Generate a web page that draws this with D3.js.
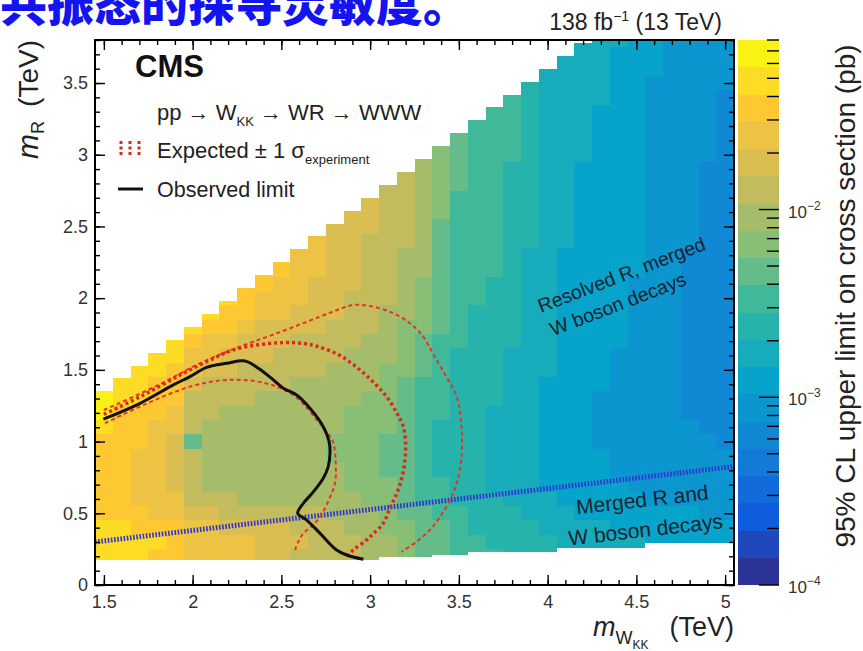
<!DOCTYPE html>
<html>
<head>
<meta charset="utf-8">
<title>W_KK → WR → WWW limits</title>
<script src="https://cdn.jsdelivr.net/npm/d3@7/dist/d3.min.js"></script>
<style>
  html, body { margin: 0; padding: 0; background: #fff; }
  svg { display: block; }
  text { font-family: "Liberation Sans", Arial, Helvetica, sans-serif; }
</style>
</head>
<body>
<svg id="chart" width="863" height="651"></svg>
<script>
// ---- data -----------------------------------------------------------------
// m(W_KK) bin centres (TeV), bins 0.1 TeV wide
const massWKK = [1.5,1.6,1.7,1.8,1.9,2.0,2.1,2.2,2.3,2.4,2.5,2.6,2.7,2.8,2.9,3.0,3.1,3.2,
                 3.3,3.4,3.5,3.6,3.7,3.8,3.9,4.0,4.1,4.2,4.3,4.4,4.5,4.6,4.7,4.8,4.9,5.0];
// m(R) bin centres (TeV), bins 0.1 TeV tall
const massR = [0.2,0.3,0.4,0.5,0.6,0.7,0.8,0.9,1.0,1.1,1.2,1.3,1.4,1.5,1.6,1.7,1.8,1.9,2.0,
               2.1,2.2,2.3,2.4,2.5,2.6,2.7,2.8,2.9,3.0,3.1,3.2,3.3,3.4,3.5,3.6,3.7,3.8];
// scanned m(R) range of every m(W_KK) column (TeV)
const columnTopR = [1.35,1.44,1.53,1.62,1.71,1.80,1.89,1.98,2.07,2.16,2.25,2.34,2.43,2.52,2.61,2.70,2.79,2.88,
                    2.97,3.06,3.15,3.24,3.33,3.42,3.51,3.60,3.69,3.78,3.85,3.85,3.85,3.85,3.85,3.85,3.85,3.85];
const columnBottomR = [0.175,0.175,0.175,0.175,0.175,0.175,0.175,0.175,0.175,0.175,0.175,0.175,0.175,0.175,0.175,0.175,
                       0.197,0.197,0.197,0.21,0.21,0.232,0.232,0.232,0.232,0.232,
                       0.256,0.256,0.256,0.256,0.256,0.29,0.29,0.29,0.29,0.29];
// observed 95% CL upper limit on the cross section (fb), one list per m(W_KK) column,
// starting from the lowest m(R) bin
const observedLimitFb = [
  /*1.5*/ [50,55,48,38,36,35,36,37,40,48,60,70],
  /*1.6*/ [46,50,44,34,31,30,30,31,33,36,40,47,52],
  /*1.7*/ [44,46,40,32,29,27,27,28,30,32,36,42,47,50],
  /*1.8*/ [40,42,36,29,26,24,23,24,25,27,30,34,40,46,50],
  /*1.9*/ [36,38,32,26,23,21,20,20,21,23,26,30,35,40,46,50],
  /*2.0*/ [27,28,24,18,14,12.5,12,12,4.8,12,13,15,18,22,28,36,44],
  /*2.1*/ [25,26,22,16,12,9.8,9.2,9.2,9.6,10,11,13,15,18,22,28,36,44],
  /*2.2*/ [24,25,21,15,11,8.6,8.2,8.2,8.4,9.2,10,12,14,16,19,24,30,38,44],
  /*2.3*/ [22,23,19,14,10.5,8.4,8,8,8.2,9,9.6,11,12.5,14.5,17,20,25,31,37,40],
  /*2.4*/ [20,21,17,13,10,8.2,7.8,7.8,8,8.8,9.4,10.5,12,13.5,15.5,18,21,25,29,33,36],
  /*2.5*/ [18,19,16,12.5,9.8,8.2,7.8,7.8,8,8.8,9.2,10,11.5,13,14.5,16.5,19,22,25,28,31],
  /*2.6*/ [15,16,14,12,9.6,8.8,8.4,8.4,8.6,8.8,9,9.6,10.5,12,13.5,15,17,19,22,24,26,27],
  /*2.7*/ [13,13.5,12.5,11,9.2,8.6,8.2,8.2,8.4,8.6,8.8,9.2,10,11,12.5,14,15.5,17,19,21,22,23,24],
  /*2.8*/ [12,12,11,10,8.8,8.2,7.8,7.6,7.6,7.8,8.2,8.6,9.2,10,11,12.5,14,15.5,17,18,19,20,20,21],
  /*2.9*/ [11,11,10,9.4,8.2,7.6,7.2,7,7,7.2,7.6,8,8.6,9.2,10,11,12.5,13.5,15,16,16.5,17,17.5,18,18],
  /*3.0*/ [9.5,9.5,8.8,8.2,7.2,6.8,6.4,6.2,6.2,6.4,6.8,7.2,7.8,8.4,9.2,10,11,12,13,14,14.5,15,15,15.5,15.5,16],
  /*3.1*/ [8,8,7.4,6.8,6,5.6,5.4,5.4,5.4,5.6,5.8,6.2,6.8,7.4,8,8.8,9.6,10.5,11.5,12,12.5,13,13,13.5,13.5,14,14],
  /*3.2*/ [6.6,6.4,6,5.4,4.8,4.4,4.2,4.2,4.2,4.3,4.5,4.8,5.2,5.8,6.4,7,7.6,8.4,9,9.6,10,10.5,11,11,11.5,11.5,12,12],
  /*3.3*/ [5.4,5.2,4.8,4.2,3.7,3.4,3.3,3.2,3.2,3.3,3.4,3.6,3.9,4.3,4.8,5.3,5.8,6.4,7,7.5,8,8.4,8.8,9,9.2,9.4,9.6,9.8,10],
  /*3.4*/ [4.6,4.4,4,3.5,3.1,2.9,2.8,2.8,2.8,2.8,2.9,3,3.2,3.4,3.6,3.8,4,4.2,4.4,4.6,4.8,5,5.2,5.4,5.6,5.8,6,6.2,6.4,6.6],
  /*3.5*/ [3.8,3.6,3.3,2.9,2.6,2.4,2.3,2.3,2.3,2.3,2.4,2.5,2.6,2.7,2.8,2.9,3,3.1,3.2,3.3,3.4,3.5,3.6,3.7,3.8,3.9,4,4.1,4.2,4.3],
  /*3.6*/ [3.3,3.1,2.8,2.5,2.3,2.2,2.1,2.1,2.1,2.1,2.2,2.2,2.3,2.4,2.5,2.6,2.7,2.8,2.9,3,3.1,3.2,3.3,3.3,3.4,3.4,3.5,3.5,3.6,3.6,3.7],
  /*3.7*/ [2.9,2.8,2.5,2.3,2.1,2,1.95,1.95,1.95,1.95,2,2.05,2.1,2.2,2.3,2.4,2.5,2.6,2.7,2.8,2.85,2.9,2.95,3,3.05,3.1,3.15,3.2,3.25,3.3,3.35,3.4],
  /*3.8*/ [2.6,2.5,2.3,2.1,1.9,1.8,1.75,1.72,1.72,1.72,1.75,1.8,1.85,1.9,2,2.1,2.2,2.3,2.4,2.45,2.5,2.55,2.6,2.65,2.7,2.75,2.8,2.8,2.85,2.85,2.9,2.9,2.95],
  /*3.9*/ [2.4,2.3,2.1,1.9,1.7,1.6,1.55,1.52,1.5,1.5,1.52,1.55,1.6,1.65,1.7,1.75,1.8,1.85,1.9,1.95,2,2,2.05,2.05,2.1,2.1,2.15,2.15,2.2,2.2,2.25,2.25,2.3,2.3],
  /*4.0*/ [2.2,2.1,1.9,1.7,1.5,1.42,1.38,1.35,1.33,1.33,1.35,1.38,1.42,1.45,1.48,1.5,1.52,1.54,1.56,1.58,1.6,1.62,1.64,1.66,1.68,1.7,1.72,1.74,1.76,1.78,1.8,1.82,1.84,1.86,1.88],
  /*4.1*/ [2,1.9,1.75,1.55,1.38,1.3,1.25,1.22,1.2,1.2,1.22,1.25,1.28,1.3,1.32,1.34,1.36,1.38,1.4,1.42,1.43,1.44,1.45,1.46,1.47,1.48,1.49,1.5,1.52,1.54,1.56,1.58,1.6,1.62,1.64,1.66],
  /*4.2*/ [1.85,1.75,1.6,1.42,1.28,1.2,1.15,1.12,1.1,1.1,1.1,1.12,1.14,1.16,1.18,1.2,1.22,1.24,1.26,1.28,1.3,1.32,1.34,1.36,1.38,1.4,1.42,1.44,1.46,1.48,1.5,1.52,1.54,1.56,1.58,1.6,1.62],
  /*4.3*/ [1.75,1.65,1.52,1.34,1.2,1.12,1.07,1.04,1.02,1.02,1.02,1.03,1.05,1.07,1.09,1.11,1.13,1.15,1.17,1.19,1.21,1.23,1.25,1.27,1.29,1.31,1.33,1.35,1.37,1.39,1.41,1.43,1.45,1.47,1.5,1.52,1.55],
  /*4.4*/ [1.65,1.56,1.44,1.26,1.13,1.05,1,0.97,0.95,0.95,0.95,0.96,0.98,1,1.02,1.04,1.06,1.08,1.1,1.12,1.14,1.16,1.18,1.2,1.22,1.24,1.26,1.28,1.3,1.32,1.34,1.36,1.38,1.4,1.42,1.44,1.45],
  /*4.5*/ [1.55,1.48,1.36,1.2,1.07,0.99,0.94,0.91,0.89,0.88,0.88,0.88,0.89,0.9,0.92,0.94,0.96,0.98,1,1.02,1.04,1.06,1.08,1.1,1.12,1.13,1.14,1.15,1.16,1.17,1.18,1.19,1.2,1.21,1.22,1.23,1.24],
  /*4.6*/ [1.48,1.42,1.3,1.15,1.02,0.94,0.89,0.86,0.84,0.83,0.82,0.82,0.82,0.83,0.84,0.85,0.86,0.87,0.88,0.89,0.9,0.91,0.92,0.93,0.94,0.95,0.96,0.97,0.98,0.99,1,1.01,1.02,1.03,1.04,1.05,1.06],
  /*4.7*/ [1.42,1.36,1.25,1.1,0.98,0.9,0.85,0.82,0.8,0.79,0.78,0.77,0.77,0.77,0.77,0.78,0.78,0.79,0.8,0.8,0.81,0.82,0.83,0.84,0.85,0.86,0.87,0.88,0.88,0.89,0.9,0.9,0.91,0.92,0.92,0.93,0.94],
  /*4.8*/ [1.36,1.3,1.2,1.05,0.94,0.87,0.83,0.8,0.78,0.76,0.74,0.73,0.72,0.71,0.71,0.71,0.71,0.71,0.72,0.72,0.73,0.74,0.75,0.76,0.77,0.78,0.79,0.8,0.81,0.82,0.82,0.83,0.84,0.85,0.85,0.86,0.87],
  /*4.9*/ [1.3,1.25,1.15,1.01,0.91,0.85,0.81,0.78,0.75,0.72,0.7,0.68,0.67,0.66,0.66,0.65,0.65,0.65,0.66,0.66,0.67,0.68,0.69,0.7,0.71,0.72,0.73,0.74,0.75,0.76,0.77,0.78,0.79,0.8,0.8,0.81,0.82],
  /*5.0*/ [1.25,1.2,1.1,0.97,0.88,0.83,0.8,0.77,0.73,0.7,0.67,0.64,0.62,0.61,0.6,0.6,0.6,0.6,0.6,0.61,0.62,0.63,0.64,0.65,0.66,0.67,0.68,0.69,0.7,0.71,0.72,0.73,0.74,0.75,0.76,0.77,0.78]
];
// exclusion contours, points are [m(W_KK), m(R)] in TeV
const observedContour = [[1.497,1.156],[1.704,1.267],[1.891,1.395],[1.985,1.453],[2.079,1.518],[2.192,1.546],
  [2.295,1.562],[2.37,1.511],[2.455,1.43],[2.511,1.372],[2.586,1.325],[2.661,1.232],[2.736,1.104],[2.769,1.0],
  [2.774,0.92],[2.764,0.825],[2.736,0.745],[2.671,0.636],[2.624,0.57],[2.592,0.5],[2.643,0.453],[2.718,0.36],
  [2.811,0.244],[2.868,0.209],[2.962,0.179]];
const expectedContour = [[1.5,1.19],[1.7,1.31],[1.929,1.464],[2.1,1.57],[2.229,1.639],[2.37,1.675],[2.511,1.69],
  [2.62,1.685],[2.699,1.665],[2.83,1.6],[2.943,1.499],[3.03,1.4],[3.093,1.313],[3.15,1.2],[3.187,1.104],[3.2,0.98],
  [3.196,0.872],[3.18,0.75],[3.15,0.639],[3.11,0.53],[3.074,0.43],[3.02,0.36],[2.98,0.314],[2.905,0.244],[2.868,0.197]];
const expectedOuterBand = [[1.5,1.22],[1.8,1.39],[2.04,1.545],[2.267,1.662],[2.474,1.755],[2.718,1.871],[2.83,1.925],
  [2.905,1.953],[3.0,1.945],[3.131,1.895],[3.23,1.82],[3.3,1.73],[3.36,1.6],[3.43,1.45],[3.488,1.313],[3.516,1.081],
  [3.506,0.802],[3.46,0.616],[3.394,0.476],[3.337,0.384],[3.26,0.3],[3.178,0.232]];
const expectedInnerBand = [[1.506,1.128],[1.75,1.27],[1.985,1.383],[2.15,1.425],[2.286,1.43],[2.4,1.41],[2.474,1.383],
  [2.56,1.33],[2.624,1.262],[2.7,1.15],[2.76,1.06],[2.793,0.99],[2.806,0.85],[2.802,0.709],[2.77,0.6],[2.718,0.476],
  [2.67,0.41],[2.624,0.36],[2.595,0.3],[2.577,0.244]];
// boundary between the "resolved R" and "merged R" selections
const regimeBoundary = [[1.45,0.30],[5.05,0.826]];
// axis ticks
const xMajorTicks = [1.5,2,2.5,3,3.5,4,4.5,5];
const yMajorTicks = [0,0.5,1,1.5,2,2.5,3,3.5];
const zMajorTicks = [1e-4,1e-3,1e-2];
const zRangePb = [1e-4, 0.08];

// ---- palette (ROOT kBird, 20 contour levels) -------------------------------
const kBird = ["#352a87","#0f5cdd","#1481d6","#06a4ca","#2eb7a4","#87bf77","#d1bb59","#fec832","#f9fb0e"];
const nLevels = 20;
const bird = d3.scaleLinear().domain(d3.range(kBird.length).map(i => i / (kBird.length - 1)))
  .range(kBird).interpolate(d3.interpolateRgb);
const zNorm = d3.scaleLog().domain(zRangePb).range([0, 1]).clamp(true);
const levelColor = pb => {
  const lev = Math.min(nLevels - 1, Math.floor(zNorm(pb) * nLevels));
  return bird((lev + 0.5) / nLevels);
};

// ---- layout ---------------------------------------------------------------
const svg = d3.select("#chart");
const plot = { left: 95, right: 734, top: 40, bottom: 585 };
const x = d3.scaleLinear().domain([1.45, 5.05]).range([plot.left, plot.right]);
const y = d3.scaleLinear().domain([0, 3.8]).range([plot.bottom, plot.top]);
const zAxis = d3.scaleLog().domain(zRangePb).range([plot.bottom, plot.top]);
const bar = { left: 738, right: 779 };

svg.append("rect").attr("width", 863).attr("height", 651).attr("fill", "#fff");

// caption line from the surrounding page
svg.append("text")
  .attr("x", 0).attr("y", 21)
  .style("font-family", '"Noto Sans CJK SC", sans-serif')
  .style("font-weight", 900).style("font-size", "47px").attr("fill", "#1414f0")
  .text("共振态的探寻灵敏度。");

svg.append("defs").append("clipPath").attr("id", "plotClip")
  .append("rect").attr("x", plot.left).attr("y", plot.top)
  .attr("width", plot.right - plot.left).attr("height", plot.bottom - plot.top);

// ---- 2D limit map -----------------------------------------------------------
const cells = [];
massWKK.forEach((m, i) => {
  observedLimitFb[i].forEach((v, k) => {
    const lo = Math.max(massR[k] - 0.05, columnBottomR[i]);
    const hi = Math.min(massR[k] + 0.05, columnTopR[i]);
    if (hi > lo) cells.push({ m, lo, hi, v });
  });
});
const mapG = svg.append("g").attr("clip-path", "url(#plotClip)");
mapG.selectAll("rect").data(cells).join("rect")
  .attr("x", d => x(d.m - 0.05))
  .attr("width", d => x(d.m + 0.05) - x(d.m - 0.05))
  .attr("y", d => y(d.hi))
  .attr("height", d => y(d.lo) - y(d.hi))
  .attr("fill", d => levelColor(d.v * 1e-3))
  .attr("shape-rendering", "crispEdges");

// ---- contours ---------------------------------------------------------------
const curveG = svg.append("g").attr("clip-path", "url(#plotClip)").attr("fill", "none");
const smooth = d3.line().x(d => x(d[0])).y(d => y(d[1])).curve(d3.curveCatmullRom.alpha(0.5));
const straight = d3.line().x(d => x(d[0])).y(d => y(d[1]));

curveG.append("path").attr("d", straight(regimeBoundary))
  .attr("stroke", "#3034d2").attr("stroke-width", 5).attr("stroke-dasharray", "1.6,1.6");
curveG.append("path").attr("d", smooth(expectedOuterBand))
  .attr("stroke", "#e4361f").attr("stroke-width", 2).attr("stroke-dasharray", "4,3");
curveG.append("path").attr("d", smooth(expectedInnerBand))
  .attr("stroke", "#e4361f").attr("stroke-width", 2).attr("stroke-dasharray", "4,3");
curveG.append("path").attr("d", smooth(expectedContour))
  .attr("stroke", "#e0281a").attr("stroke-width", 3.5).attr("stroke-dasharray", "3,3");
curveG.append("path").attr("d", smooth(observedContour))
  .attr("stroke", "#111").attr("stroke-width", 3).attr("stroke-linejoin", "round");

// ---- axes -------------------------------------------------------------------
const styleAxis = (g, labelled) => {
  g.select(".domain").remove();
  g.selectAll(".tick line").attr("stroke", "#000").attr("stroke-width", 1.4);
  if (labelled) g.selectAll(".tick text").attr("fill", "#333").style("font-size", "18px")
    .style("font-family", '"Liberation Sans", Arial, sans-serif');
  else g.selectAll(".tick text").remove();
};
svg.append("g").attr("transform", `translate(0,${plot.bottom})`)
  .call(d3.axisBottom(x).ticks(36).tickSize(-5).tickFormat(""))
  .call(g => styleAxis(g, false));
svg.append("g").attr("transform", `translate(0,${plot.bottom})`)
  .call(d3.axisBottom(x).tickValues(xMajorTicks).tickSize(-10).tickPadding(10).tickFormat(d3.format("~g")))
  .call(g => styleAxis(g, true));
svg.append("g").attr("transform", `translate(0,${plot.top})`)
  .call(d3.axisTop(x).ticks(36).tickSize(-5).tickFormat("")).call(g => styleAxis(g, false));
svg.append("g").attr("transform", `translate(0,${plot.top})`)
  .call(d3.axisTop(x).tickValues(xMajorTicks).tickSize(-10).tickFormat("")).call(g => styleAxis(g, false));

svg.append("g").attr("transform", `translate(${plot.left},0)`)
  .call(d3.axisLeft(y).ticks(38).tickSize(-5).tickFormat("")).call(g => styleAxis(g, false));
svg.append("g").attr("transform", `translate(${plot.left},0)`)
  .call(d3.axisLeft(y).tickValues(yMajorTicks).tickSize(-10).tickPadding(7).tickFormat(d3.format("~g")))
  .call(g => styleAxis(g, true));
svg.append("g").attr("transform", `translate(${plot.right},0)`)
  .call(d3.axisRight(y).ticks(38).tickSize(-5).tickFormat("")).call(g => styleAxis(g, false));
svg.append("g").attr("transform", `translate(${plot.right},0)`)
  .call(d3.axisRight(y).tickValues(yMajorTicks).tickSize(-10).tickFormat("")).call(g => styleAxis(g, false));

svg.append("rect")
  .attr("x", plot.left).attr("y", plot.top)
  .attr("width", plot.right - plot.left).attr("height", plot.bottom - plot.top)
  .attr("fill", "none").attr("stroke", "#000").attr("stroke-width", 2);

// axis titles
const xTitle = svg.append("text").attr("x", plot.right).attr("y", 636)
  .attr("text-anchor", "end").attr("fill", "#222").style("font-size", "27px");
xTitle.append("tspan").style("font-style", "italic").text("m");
xTitle.append("tspan").attr("dy", 8).style("font-size", "18px").text("W");
xTitle.append("tspan").attr("dy", 5).style("font-size", "12px").text("KK");
xTitle.append("tspan").attr("dy", -13).text("\u2002 (TeV)");

const yTitle = svg.append("text")
  .attr("transform", `translate(38,${plot.top}) rotate(-90)`)
  .attr("text-anchor", "end").attr("fill", "#222").style("font-size", "28px");
yTitle.append("tspan").style("font-style", "italic").style("font-size", "30px").text("m");
yTitle.append("tspan").attr("dy", 6).style("font-size", "18px").text("R");
yTitle.append("tspan").attr("dy", -6).text("\u2002(TeV)");

// ---- colour bar ---------------------------------------------------------------
const levelEdges = d3.range(nLevels + 1).map(i => zNorm.invert(i / nLevels));
svg.append("g").selectAll("rect").data(d3.range(nLevels)).join("rect")
  .attr("x", bar.left).attr("width", bar.right - bar.left)
  .attr("y", i => zAxis(levelEdges[i + 1]))
  .attr("height", i => zAxis(levelEdges[i]) - zAxis(levelEdges[i + 1]))
  .attr("fill", i => bird((i + 0.5) / nLevels))
  .attr("shape-rendering", "crispEdges");
const zTicks = zAxis.ticks();
svg.append("g").selectAll("line").data(zTicks).join("line")
  .attr("x1", bar.right)
  .attr("x2", d => bar.right - (zMajorTicks.some(m => Math.abs(m - d) / m < 1e-6) ? 20 : 12))
  .attr("y1", d => zAxis(d)).attr("y2", d => zAxis(d))
  .attr("stroke", "#000").attr("stroke-width", 1.4);
const zLabels = svg.append("g").selectAll("text").data(zMajorTicks).join("text")
  .attr("x", 788).attr("y", d => zAxis(d) + 8)
  .attr("fill", "#333").style("font-size", "17px");
zLabels.append("tspan").text("10");
zLabels.append("tspan").attr("dy", -8).style("font-size", "12px")
  .text(d => "\u2212" + Math.round(-Math.log10(d)));

svg.append("text")
  .attr("transform", `translate(855,${(plot.top + 552) / 2}) rotate(-90)`)
  .attr("text-anchor", "middle").attr("fill", "#222").style("font-size", "28px")
  .text("95% CL upper limit on cross section (pb)");

// luminosity label
const lumi = svg.append("text").attr("x", 722).attr("y", 30).attr("text-anchor", "end")
  .attr("fill", "#222").style("font-size", "23px");
lumi.append("tspan").text("138 fb");
lumi.append("tspan").attr("dy", -9).style("font-size", "14px").text("\u22121");
lumi.append("tspan").attr("dy", 9).text(" (13 TeV)");

// ---- legend ---------------------------------------------------------------------
svg.append("text").attr("x", 135).attr("y", 77).attr("fill", "#111")
  .style("font-size", "31px").style("font-weight", "bold").text("CMS");

const proc = svg.append("text").attr("x", 157).attr("y", 120).attr("fill", "#222").style("font-size", "22px");
proc.append("tspan").text("pp \u2192 W");
proc.append("tspan").attr("dy", 6).style("font-size", "13px").text("KK");
proc.append("tspan").attr("dy", -6).text(" \u2192 WR \u2192 WWW");

[121, 130, 139].forEach(px => {
  svg.append("line").attr("x1", px).attr("x2", px).attr("y1", 141).attr("y2", 157)
    .attr("stroke", "#e0281a").attr("stroke-width", 3).attr("stroke-dasharray", "3,2.5");
});
const expTxt = svg.append("text").attr("x", 157).attr("y", 158).attr("fill", "#222").style("font-size", "22px");
expTxt.append("tspan").text("Expected \u00b1 1 \u03c3");
expTxt.append("tspan").attr("dy", 6).style("font-size", "13px").text("experiment");

svg.append("line").attr("x1", 118).attr("x2", 143).attr("y1", 189).attr("y2", 189)
  .attr("stroke", "#111").attr("stroke-width", 3);
svg.append("text").attr("x", 157).attr("y", 197).attr("fill", "#222").style("font-size", "21.5px")
  .text("Observed limit");

// ---- region annotations -----------------------------------------------------------
const resolved = svg.append("g").attr("transform", "translate(541,313) rotate(-21)")
  .attr("fill", "#1a2230").style("font-size", "19.5px");
resolved.append("text").attr("y", 0).text("Resolved R, merged");
resolved.append("text").attr("x", 3).attr("y", 26).text("W boson decays");

const merged = svg.append("g").attr("transform", "translate(643,507) rotate(-6.5)")
  .attr("fill", "#1a2230").style("font-size", "21px").attr("text-anchor", "middle");
merged.append("text").attr("y", 0).text("Merged R and");
merged.append("text").attr("y", 30).text("W boson decays");
</script>
</body>
</html>
